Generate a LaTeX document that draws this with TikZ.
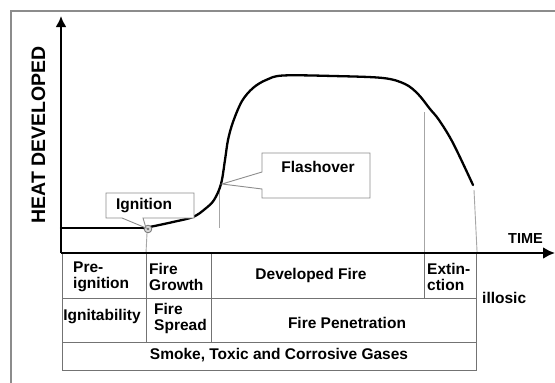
\documentclass[tikz,border=0pt]{standalone}
\usepackage{fontspec}
\setmainfont{Liberation Sans}
\usetikzlibrary{arrows.meta}
\begin{document}
\begin{tikzpicture}[x=1pt,y=-1pt,
  curveline/.style={line width=2.3pt,black,line join=round,line cap=round},
  axisline/.style={line width=2.6pt,black},
  cell/.style={draw=gray!90!black,line width=1.1pt,anchor=north west,inner sep=0pt,minimum width=#1},
  guide/.style={draw=black!35,line width=0.9pt},
  callout/.style={draw=black!45,line width=0.9pt,fill=white},
  txt/.style={font=\bfseries\fontsize{15.5}{16}\selectfont,inner sep=0pt,align=left},
  ctxt/.style={font=\bfseries\fontsize{15.5}{16}\selectfont,inner sep=0pt,align=center}]
\useasboundingbox (0,0) rectangle (555,383);
% outer frame
\draw[black!45,line width=1.2pt] (11,383) -- (11,11) -- (555,11);
% table cells
\node[cell=84, minimum height=45] (c11) at (62,253) {};
\node[cell=65, minimum height=45] (c12) at (146,253) {};
\node[cell=213,minimum height=45] (c13) at (211,253) {};
\node[cell=52, minimum height=45] (c14) at (424,253) {};
\node[cell=84, minimum height=44] (c21) at (62,298) {};
\node[cell=65, minimum height=44] (c22) at (146,298) {};
\node[cell=265,minimum height=44] (c23) at (211,298) {};
\node[cell=414,minimum height=28] (c31) at (62,342) {};
% cell texts
\node[txt,anchor=west] (t11) at (73,277) {Pre-\\ignition};
\node[txt,anchor=west] (t12) at (149,277) {Fire\\Growth};
\node[ctxt] (t13) at (311,275) {Developed Fire};
\node[txt,anchor=west] (t14) at (427,277) {Extin-\\ction};
\node[ctxt] (t21) at (102,317) {Ignitability};
\node[txt,anchor=west] (t22) at (154,318) {Fire\\Spread};
\node[ctxt] (t23) at (347,323) {Fire Penetration};
\node[ctxt] (t31) at (279,355) {Smoke, Toxic and Corrosive Gases};
\node[ctxt,anchor=west] (ill) at (482,298) {illosic};
% guide lines
\coordinate (gi) at (147,233);
\coordinate (gf) at (219,187);
\coordinate (gfb) at (219,228);
\coordinate (ge) at (424,112);
\coordinate (gx) at (474,190);
\draw[guide] (gi) -- (c12.north west);
\draw[guide] (gf) -- (gfb);
\draw[guide] (ge) -- (c14.north west);
\draw[guide] (gx) -- (c14.north east);
% axes
\coordinate (ax0) at (61,253);
\coordinate (axy) at (61,16);
\coordinate (axx) at (555,253);
\draw[axisline,-{Latex[length=12pt,width=12pt]}] (ax0) -- (axx);
\draw[axisline,-{Latex[length=11pt,width=11pt]}] (ax0) -- (axy);
\node[font=\bfseries\fontsize{19.5}{20}\selectfont,rotate=90,inner sep=0pt] (ylab) at (38.5,135) {HEAT DEVELOPED};
\node[font=\bfseries\fontsize{14.5}{15}\selectfont,inner sep=0pt] (xlab) at (525.5,239) {TIME};
% heat curve
\coordinate (h0) at (61,228);
\coordinate (h1) at (143,228);
\coordinate (ign) at (148,229);
\draw[curveline] (h0) -- (h1);
\draw[curveline] plot[smooth,tension=0.55] coordinates {(143,228) (152,226.5) (173,222) (193,217) (205,209) (214,200) (221,184) (225,160) (228,140) (233,122) (242,101) (253,88) (266,80) (283,75.5) (333,76) (383,78) (405,84) (418,94) (430,109) (439,120) (453,143) (473,185)};
% ignition marker
\draw[black!55,line width=0.8pt,fill=black!15] (ign) circle (3.8);
\fill[black!55] (ign) circle (1.3);
% flashover callout
\draw[callout] (262,153) -- (370,153) -- (370,198) -- (262,198) -- (262,189) -- (222,184) -- (262,172) -- cycle;
\node[ctxt] (flash) at (318,167) {Flashover};
% ignition callout
\draw[callout] (106,193) -- (194,193) -- (194,218) -- (143,218) -- (146,228) -- (122,218) -- (106,218) -- cycle;
\node[ctxt] (igtxt) at (144,206) {Ignition};
\end{tikzpicture}
\end{document}
